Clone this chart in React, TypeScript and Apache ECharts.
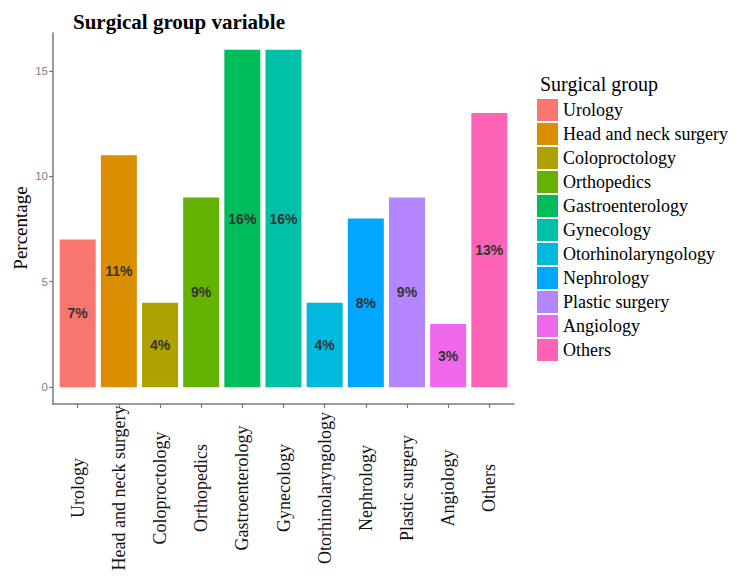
import React, { useEffect, useRef } from "react";
import * as echarts from "echarts";

const categories = [
  "Urology",
  "Head and neck surgery",
  "Coloproctology",
  "Orthopedics",
  "Gastroenterology",
  "Gynecology",
  "Otorhinolaryngology",
  "Nephrology",
  "Plastic surgery",
  "Angiology",
  "Others",
];
const percentages = [7, 11, 4, 9, 16, 16, 4, 8, 9, 3, 13];
const colors = [
  "#F8766D",
  "#DB8E00",
  "#AEA200",
  "#64B200",
  "#00BD5C",
  "#00C1A7",
  "#00BADE",
  "#00A6FF",
  "#B385FF",
  "#EF67EB",
  "#FF63B6",
];
const yTicks = [0, 5, 10, 15];
const xTicks = categories.map((_, i) => i);

export default function App() {
  const ref = useRef<HTMLDivElement>(null);
  useEffect(() => {
    const chart = echarts.init(ref.current!, null, { renderer: "svg" });
    const serif = "Liberation Serif";
    chart.setOption({
      animation: false,
      backgroundColor: "#ffffff",
      grid: { left: 53, right: 228, top: 33, bottom: 183, containLabel: false },
      title: {
        text: "Surgical group variable",
        left: 73,
        top: 11,
        textStyle: { fontFamily: serif, fontSize: 21, fontWeight: "bold", color: "#000" },
        padding: 0,
      },
      legend: {
        orient: "vertical",
        left: 537,
        top: 99,
        padding: 0,
        itemWidth: 21,
        itemHeight: 22,
        itemGap: 2,
        icon: "rect",
        textStyle: { fontFamily: serif, fontSize: 18, color: "#000" },
        data: categories,
      },
      graphic: [
        {
          type: "text",
          left: 540,
          top: 74,
          style: { text: "Surgical group", font: `20px "${serif}"`, fill: "#000" },
        },
        {
          type: "text",
          x: 20,
          y: 228,
          rotation: Math.PI / 2,
          style: {
            text: "Percentage",
            font: `19px "${serif}"`,
            fill: "#000",
            align: "center",
            verticalAlign: "middle",
          },
        },
      ],
      xAxis: {
        type: "value",
        min: -0.6,
        max: 10.6,
        splitLine: { show: false },
        axisLine: { show: true, onZero: false, lineStyle: { color: "#7a7a7a", width: 1.5 } },
        axisTick: {
          show: true,
          customValues: xTicks,
          length: 4,
          lineStyle: { color: "#7a7a7a", width: 1.2 },
        },
        axisLabel: {
          customValues: xTicks,
          formatter: (v: number) => categories[Math.round(v)] ?? "",
          rotate: 90,
          align: "center",
          verticalAlign: "middle",
          margin: 84,
          fontFamily: serif,
          fontSize: 18,
          color: "#111",
        },
      },
      yAxis: {
        type: "value",
        min: -0.8,
        max: 16.8,
        splitLine: { show: false },
        axisLine: { show: true, onZero: false, lineStyle: { color: "#7a7a7a", width: 1.5 } },
        axisTick: {
          show: true,
          customValues: yTicks,
          length: 4,
          lineStyle: { color: "#7a7a7a", width: 1.2 },
        },
        axisLabel: {
          customValues: yTicks,
          margin: 5,
          fontFamily: "Liberation Sans",
          fontSize: 11.5,
          color: "#808080",
        },
      },
      series: categories.map((name, i) => ({
        name,
        type: "bar",
        barWidth: 36,
        barGap: "-100%",
        itemStyle: { color: colors[i] },
        label: {
          show: true,
          position: "inside",
          formatter: (p: any) => `${p.value[1]}%`,
          fontFamily: "Liberation Sans",
          fontWeight: "bold",
          fontSize: 14,
          color: "#333333",
        },
        data: [[i, percentages[i]]],
      })),
    });
    return () => chart.dispose();
  }, []);
  return (
    <div
      ref={ref}
      style={{ position: "fixed", left: 0, top: 0, width: 742, height: 587 }}
    />
  );
}
